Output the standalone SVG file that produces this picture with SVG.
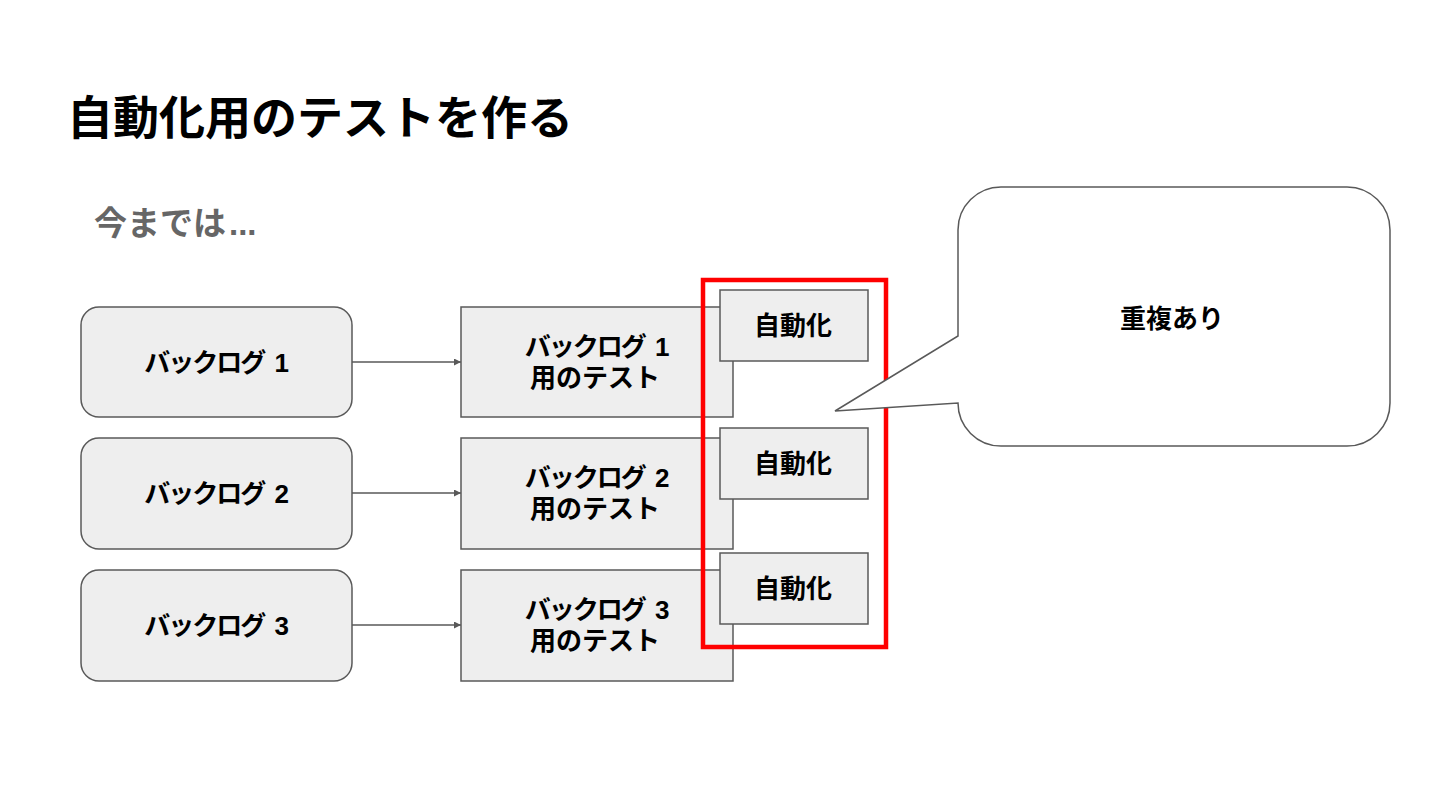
<svg xmlns="http://www.w3.org/2000/svg" width="1440" height="810" viewBox="0 0 1440 810">
<defs>
<style>
.t{font-family:"Liberation Sans","Noto Sans CJK JP",sans-serif;font-weight:bold;fill:#000;text-anchor:middle;font-size:26px;}
.k{letter-spacing:-2px;}
.box{fill:#eeeeee;stroke:#595959;stroke-width:1.5;}
.con{stroke:#595959;stroke-width:1.5;fill:none;}
</style>
<marker id="arr" viewBox="0 0 10 10" refX="10" refY="5" markerWidth="8" markerHeight="7" markerUnits="userSpaceOnUse" orient="auto">
<path d="M0,0 L10,5 L0,10 Z" fill="#595959"/>
</marker>
</defs>
<rect width="1440" height="810" fill="#ffffff"/>
<text x="67" y="134" font-family="Liberation Sans,'Noto Sans CJK JP',sans-serif" font-weight="bold" font-size="46" fill="#000">自動化用のテストを作る</text>
<text x="94" y="235" font-family="Liberation Sans,'Noto Sans CJK JP',sans-serif" font-weight="bold" font-size="33" fill="#666666">今までは<tspan dx="3">...</tspan></text>

<g id="backlog1"><rect class="box" x="81" y="307" width="271" height="110" rx="18"/><text class="t" x="216.5" y="372"><tspan class="k">バックログ</tspan><tspan dx="3"> 1</tspan></text></g>
<g id="backlog2"><rect class="box" x="81" y="438" width="271" height="111" rx="18"/><text class="t" x="216.5" y="503"><tspan class="k">バックログ</tspan><tspan dx="3"> 2</tspan></text></g>
<g id="backlog3"><rect class="box" x="81" y="570" width="271" height="111" rx="18"/><text class="t" x="216.5" y="635"><tspan class="k">バックログ</tspan><tspan dx="3"> 3</tspan></text></g>

<g id="connectors">
<line class="con" x1="352" y1="362" x2="461" y2="362" marker-end="url(#arr)"/>
<line class="con" x1="352" y1="493" x2="461" y2="493" marker-end="url(#arr)"/>
<line class="con" x1="352" y1="625" x2="461" y2="625" marker-end="url(#arr)"/>
</g>

<g id="test1"><rect class="box" x="461" y="307" width="272" height="110"/><text class="t" x="597" y="356"><tspan class="k">バックログ</tspan><tspan dx="3"> 1</tspan></text><text class="t" x="595" y="387">用のテスト</text></g>
<g id="test2"><rect class="box" x="461" y="438" width="272" height="111"/><text class="t" x="597" y="487"><tspan class="k">バックログ</tspan><tspan dx="3"> 2</tspan></text><text class="t" x="595" y="518">用のテスト</text></g>
<g id="test3"><rect class="box" x="461" y="570" width="272" height="111"/><text class="t" x="597" y="619"><tspan class="k">バックログ</tspan><tspan dx="3"> 3</tspan></text><text class="t" x="595" y="650">用のテスト</text></g>

<g id="highlight"><rect x="703" y="280" width="183" height="367" fill="none" stroke="#ff0000" stroke-width="4.5"/></g>

<g id="auto1"><rect class="box" x="720" y="290" width="148" height="71"/><text class="t" x="793" y="335">自動化</text></g>
<g id="auto2"><rect class="box" x="720" y="428" width="148" height="71"/><text class="t" x="793" y="473">自動化</text></g>
<g id="auto3"><rect class="box" x="720" y="553" width="148" height="71"/><text class="t" x="793" y="598">自動化</text></g>

<g id="callout">
<path d="M1001,187 H1347 A43,43 0 0 1 1390,230 V403 A43,43 0 0 1 1347,446 H1001 A43,43 0 0 1 958,403 L835,411 L958,336 V230 A43,43 0 0 1 1001,187 Z" fill="#ffffff" stroke="#595959" stroke-width="1.5"/>
<text class="t" x="1172" y="328">重複あり</text>
</g>
</svg>
